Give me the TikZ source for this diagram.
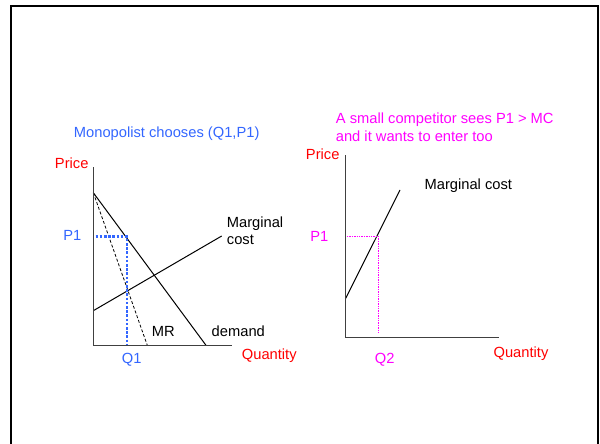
\documentclass[tikz,border=0pt]{standalone}
\usepackage{fontspec}
\setmainfont{Liberation Sans}
\definecolor{mblue}{RGB}{51,102,255}
\definecolor{mred}{RGB}{255,0,0}
\definecolor{mmag}{RGB}{255,0,255}
\begin{document}
\begin{tikzpicture}[x=1pt,y=-1pt,
  lbl/.style={inner sep=0pt, font=\fontsize{14.7}{17.5}\selectfont},
  axisline/.style={line width=1.5pt, black!75},
  curve/.style={line width=1pt},
  mrline/.style={line width=0.8pt, dash pattern=on 3pt off 2pt},
  bluedot/.style={line width=2.6pt, mblue, dash pattern=on 2.6pt off 1.6pt},
  magdot/.style={line width=1.4pt, mmag, dash pattern=on 1.4pt off 1pt}]
\useasboundingbox (0,0) rectangle (600,444);
\clip (0,0) rectangle (600,444);
\draw[line width=2pt] (10.7,450) -- (10.7,5.7) -- (597.7,5.7) -- (597.7,450);

% left graph
\coordinate (O1) at (93.3,345.3);
\coordinate (Y1) at (93.3,167.3);
\coordinate (X1) at (231.7,345.3);
\coordinate (D0) at (93.3,192.7);
\coordinate (D1) at (206,345.3);
\coordinate (MRe) at (147.3,345.3);
\coordinate (MC0) at (93.3,310.7);
\coordinate (MC1) at (221.7,236);
\coordinate (P1a) at (95.5,236.7);
\coordinate (P1b) at (127,236.7);
\coordinate (Q1b) at (127,345.3);

\draw[curve] (D0) -- (D1);
\draw[mrline] (D0) -- (MRe);
\draw[curve] (MC0) -- (MC1);
\draw[bluedot] (P1a) -- (P1b) -- (Q1b);
\draw[axisline] (Y1) -- (O1) -- (X1);

\node[lbl, mblue] (title1) at (166.7,133.3) {Monopolist chooses (Q1,P1)};
\node[lbl, mred] (price1) at (71.7,163.3) {Price};
\node[lbl, mblue] (p1l) at (72.3,235.7) {P1};
\node[lbl, mblue] (q1l) at (131.7,359.3) {Q1};
\node[lbl, mred] (qty1) at (269.3,355.7) {Quantity};
\node[lbl] (mr) at (163.3,331) {MR};
\node[lbl] (dem) at (238.3,331) {demand};
\node[lbl, align=left, anchor=west] (mc1l) at (226.7,230.8) {Marginal\\cost};

% right graph
\coordinate (O2) at (345.7,337.7);
\coordinate (Y2) at (345.7,155);
\coordinate (X2) at (499,337.7);
\coordinate (S0) at (345.7,298.3);
\coordinate (S1) at (400,190);
\coordinate (P2a) at (347,236.3);
\coordinate (P2b) at (378.5,236.3);
\coordinate (Q2b) at (378.5,332.3);

\draw[curve] (S0) -- (S1);
\draw[magdot] (P2a) -- (P2b) -- (Q2b);
\draw[axisline] (Y2) -- (O2) -- (X2);

\node[lbl, mmag, align=left, anchor=west] (title2) at (335.7,127.2) {A small competitor sees P1 > MC\\and it wants to enter too};
\node[lbl, mred] (price2) at (322.7,154.3) {Price};
\node[lbl, mmag] (p2l) at (319.3,236.7) {P1};
\node[lbl, mmag] (q2l) at (384.7,359.3) {Q2};
\node[lbl, mred] (qty2) at (521,353.3) {Quantity};
\node[lbl] (mc2l) at (468.3,185.7) {Marginal cost};
\end{tikzpicture}
\end{document}
